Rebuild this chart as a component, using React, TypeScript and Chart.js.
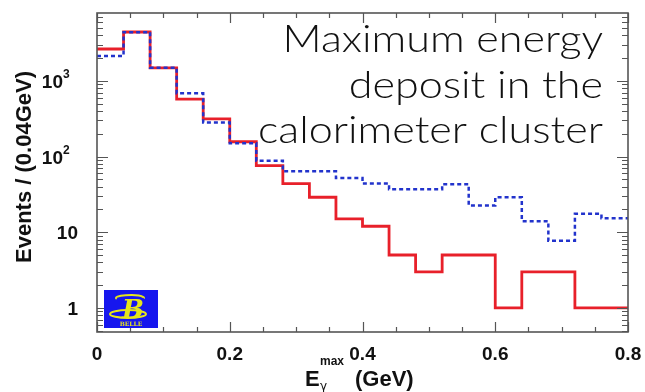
import React, { useEffect, useRef } from "react";
import { Chart, registerables } from "chart.js";
Chart.register(...registerables);

// Histogram bins (lower edges, GeV) and counts per 0.04 GeV
const binEdges = [0, 0.04, 0.08, 0.12, 0.16, 0.2, 0.24, 0.28, 0.32, 0.36, 0.4, 0.44, 0.48, 0.52, 0.56, 0.6, 0.64, 0.68, 0.72, 0.76];
const xUpper = 0.8;
const dataCounts = [2640, 4430, 1490, 576, 314, 157, 76, 44, 29, 15, 12, 5, 3, 5, 5, 1, 3, 3, 1, 1];
const mcCounts = [2130, 4400, 1490, 686, 282, 150, 88, 64, 64, 52, 44, 37, 37, 43, 22.5, 29, 14, 7.7, 17.5, 15.3];
const xTickValues = [0, 0.2, 0.4, 0.6, 0.8];
const xTickLabels = ["0", "0.2", "0.4", "0.6", "0.8"];
const yTickValues = [1, 10, 100, 1000];
const yTickBase = ["1", "10", "10", "10"];
const yTickExp = ["", "", "2", "3"];
const titleLines = ["Maximum energy", "deposit in the", "calorimeter cluster"];
const yTitle = "Events / (0.04GeV)";

const toSteps = (vals: number[]) => [
  ...binEdges.map((e, i) => ({ x: e, y: vals[i] })),
  { x: xUpper, y: vals[vals.length - 1] },
];

const decor = {
  id: "decor",
  afterDatasetsDraw(chart: any) {
    const { ctx, chartArea: ca, scales } = chart;
    const x = scales.x;
    const y = scales.y;
    ctx.save();
    ctx.strokeStyle = "#555";
    ctx.lineWidth = 1.2;
    // x ticks (bottom & top)
    for (let i = 0; i <= 16; i++) {
      const v = i * 0.05;
      const px = Math.round(x.getPixelForValue(v)) + 0.5;
      const len = i % 4 === 0 ? 10 : 5;
      ctx.beginPath();
      ctx.moveTo(px, ca.bottom);
      ctx.lineTo(px, ca.bottom - len);
      ctx.moveTo(px, ca.top);
      ctx.lineTo(px, ca.top + len);
      ctx.stroke();
    }
    // y ticks (left & right)
    const decs = [0.1, 1, 10, 100, 1000];
    for (const d of decs) {
      for (let m = 1; m <= 9; m++) {
        const v = m * d;
        if (v < y.min || v > y.max) continue;
        const py = Math.round(y.getPixelForValue(v)) + 0.5;
        const len = m === 1 ? 11 : 6;
        ctx.beginPath();
        ctx.moveTo(ca.left, py);
        ctx.lineTo(ca.left + len, py);
        ctx.moveTo(ca.right, py);
        ctx.lineTo(ca.right - len, py);
        ctx.stroke();
      }
    }
    // frame
    ctx.strokeStyle = "#555";
    ctx.lineWidth = 1.6;
    ctx.strokeRect(ca.left, ca.top, ca.width, ca.height);

    // y tick labels
    ctx.fillStyle = "#111";
    ctx.textBaseline = "middle";
    yTickValues.forEach((v, i) => {
      const py = y.getPixelForValue(v);
      if (yTickExp[i]) {
        ctx.font = "bold 19px 'Liberation Sans', Arial, sans-serif";
        ctx.textAlign = "right";
        ctx.fillText(yTickBase[i], 63, py + 2);
        ctx.font = "bold 12px 'Liberation Sans', Arial, sans-serif";
        ctx.textAlign = "left";
        ctx.fillText(yTickExp[i], 63, py - 6);
      } else {
        ctx.font = "bold 19px 'Liberation Sans', Arial, sans-serif";
        ctx.textAlign = "right";
        ctx.fillText(yTickBase[i], 78, py + 2);
      }
    });

    // y title
    ctx.save();
    ctx.translate(31, 167);
    ctx.rotate(-Math.PI / 2);
    ctx.font = "bold 22px 'Liberation Sans', Arial, sans-serif";
    ctx.textAlign = "center";
    ctx.textBaseline = "alphabetic";
    ctx.fillText(yTitle, 0, 0);
    ctx.restore();

    // x title
    ctx.textBaseline = "alphabetic";
    ctx.textAlign = "left";
    ctx.font = "bold 22px 'Liberation Sans', Arial, sans-serif";
    ctx.fillText("E", 305, 386);
    ctx.font = "bold 12px 'Liberation Sans', Arial, sans-serif";
    ctx.fillText("max", 320, 365);
    ctx.font = "12px 'DejaVu Sans', sans-serif";
    ctx.fillText("γ", 320, 390);
    ctx.font = "bold 22px 'Liberation Sans', Arial, sans-serif";
    ctx.fillText("(GeV)", 355, 386);

    // annotation (horizontally stretched to match the wide geometric face)
    ctx.font = "300 37px Lato, 'Open Sans', sans-serif";
    ctx.fillStyle = "#111";
    ctx.textAlign = "right";
    const w3 = ctx.measureText(titleLines[2]).width;
    const sx = 345 / w3;
    ctx.save();
    ctx.translate(603, 0);
    ctx.scale(sx, 1);
    titleLines.forEach((t, i) => ctx.fillText(t, 0, 52 + i * 45.5));
    ctx.restore();

    // logo
    ctx.fillStyle = "#1616ee";
    ctx.fillRect(104, 290, 54, 38);
    ctx.strokeStyle = "#e6e61a";
    ctx.lineWidth = 2;
    ctx.beginPath();
    ctx.ellipse(130, 298, 14, 3, 0, Math.PI * 0.9, Math.PI * 2.05);
    ctx.stroke();
    ctx.beginPath();
    ctx.ellipse(128, 314, 18, 4, 0, 0, Math.PI * 2);
    ctx.stroke();
    ctx.fillStyle = "#e6e61a";
    ctx.font = "italic bold 26px 'DejaVu Serif', serif";
    ctx.textAlign = "center";
    ctx.fillText("B", 133, 318);
    ctx.font = "bold 6px 'DejaVu Serif', serif";
    ctx.fillText("BELLE", 131, 326);
    ctx.restore();
  },
};

export default function App() {
  const ref = useRef<HTMLCanvasElement | null>(null);
  useEffect(() => {
    if (!ref.current) return;
    const chart = new Chart(ref.current, {
      type: "line",
      data: {
        datasets: [
          {
            label: "MC",
            data: toSteps(mcCounts),
            stepped: true,
            borderColor: "#2233cc",
            borderWidth: 2.5,
            borderDash: [4, 3],
            pointRadius: 0,
            fill: false,
            order: 0,
          },
          {
            label: "Data",
            data: toSteps(dataCounts),
            stepped: true,
            borderColor: "#e8202a",
            borderWidth: 2.8,
            pointRadius: 0,
            fill: false,
            order: 1,
          },
        ],
      },
      options: {
        responsive: false,
        animation: false,
        layout: { padding: { top: 13, right: 17, left: 0, bottom: 0 } },
        plugins: { legend: { display: false }, tooltip: { enabled: false } },
        scales: {
          x: {
            type: "linear",
            min: 0,
            max: xUpper,
            grid: { display: false, drawTicks: false },
            border: { display: false },
            afterBuildTicks: (s: any) => {
              s.ticks = xTickValues.map((v) => ({ value: v }));
            },
            afterFit: (s: any) => {
              s.height = 60;
              s.paddingLeft = 0;
              s.paddingRight = 0;
            },
            ticks: {
              padding: 11,
              maxRotation: 0,
              autoSkip: false,
              color: "#111",
              font: { family: "'Liberation Sans', Arial, sans-serif", size: 19, weight: "bold" },
              callback: (v: any) => {
                const i = xTickValues.findIndex((t) => Math.abs(t - v) < 1e-9);
                return i >= 0 ? xTickLabels[i] : "";
              },
            },
          },
          y: {
            type: "logarithmic",
            min: 0.48,
            max: 7900,
            grid: { display: false, drawTicks: false },
            border: { display: false },
            ticks: { display: false },
            afterFit: (s: any) => {
              s.width = 97;
            },
          },
        },
      },
      plugins: [decor],
    });
    return () => chart.destroy();
  }, []);
  return (
    <div style={{ position: "fixed", left: 0, top: 0, width: 645, height: 392, background: "#fff" }}>
      <canvas ref={ref} width={645} height={392} />
    </div>
  );
}
